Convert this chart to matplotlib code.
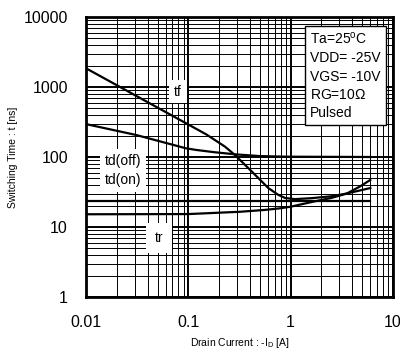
import matplotlib
matplotlib.use("Agg")
import matplotlib.pyplot as plt
from matplotlib.ticker import LogLocator, NullFormatter, FixedLocator, FixedFormatter

plt.rcParams['font.family'] = ['Liberation Sans', 'DejaVu Sans']
plt.rcParams['mathtext.fontset'] = 'custom'
plt.rcParams['mathtext.rm'] = 'Liberation Sans'

# drain current [A] and switching times [ns]
tf_id = [0.01, 0.083, 0.15, 0.229, 0.285, 0.417, 0.605, 0.75, 0.88, 1.1, 1.6, 2.5, 3.5, 6.0]
tf_t = [1850, 338, 210, 140, 107, 62, 36, 29, 26, 25, 25.8, 27.5, 30, 36]

tdoff_id = [0.01, 0.031, 0.095, 0.12, 0.18, 0.29, 0.5, 0.9, 6.0]
tdoff_t = [295, 206, 133, 126, 117, 109, 103, 101, 100]

tdon_id = [0.01, 6.0]
tdon_t = [23.7, 23.7]

tr_id = [0.01, 0.1, 0.32, 0.55, 0.79, 1.0, 1.66, 2.5, 3.53, 4.77, 6.0]
tr_t = [15.2, 15.3, 16.5, 17.5, 18.5, 19.5, 23, 26, 30, 38, 47]

xticks = [0.01, 0.1, 1, 10]
xtick_labels = ["0.01", "0.1", "1", "10"]
yticks = [1, 10, 100, 1000, 10000]
ytick_labels = ["1", "10", "100", "1000", "10000"]

conditions = "Ta=25$^\\mathregular{o}$C\nVDD= -25V\nVGS= -10V\nRG=10$\\Omega$\nPulsed"

fig = plt.figure(figsize=(4, 3.52), dpi=100)
ax = fig.add_axes([0.215, 0.15625, 0.7675, 0.7955])

ax.set_xscale("log")
ax.set_yscale("log")
ax.set_xlim(0.01, 10)
ax.set_ylim(1, 10000)

ax.xaxis.set_major_locator(FixedLocator(xticks))
ax.xaxis.set_major_formatter(FixedFormatter(xtick_labels))
ax.yaxis.set_major_locator(FixedLocator(yticks))
ax.yaxis.set_major_formatter(FixedFormatter(ytick_labels))
ax.xaxis.set_minor_locator(LogLocator(base=10, subs=range(2, 10)))
ax.yaxis.set_minor_locator(LogLocator(base=10, subs=range(2, 10)))
ax.xaxis.set_minor_formatter(NullFormatter())
ax.yaxis.set_minor_formatter(NullFormatter())

ax.grid(which="major", color="black", lw=1.4)
ax.grid(which="minor", color="black", lw=0.7)
ax.set_axisbelow(True)
ax.tick_params(which="both", length=0, labelsize=11.5, pad=13)

for s in ax.spines.values():
    s.set_linewidth(2)

for xs, ys in [(tf_id, tf_t), (tdoff_id, tdoff_t), (tdon_id, tdon_t), (tr_id, tr_t)]:
    ax.plot(xs, ys, color="black", lw=1.6, zorder=4)

box = dict(facecolor="white", edgecolor="none", pad=3.5)
ax.text(0.0795, 860, "tf", fontsize=10, ha="center", va="center", bbox=box, zorder=3)
ax.text(0.023, 88, "td(off)", fontsize=10, ha="center", va="center", bbox=box, zorder=3)
ax.text(0.023, 47, "td(on)", fontsize=10, ha="center", va="center", bbox=box, zorder=3)
ax.text(0.0517, 7.0, "tr", fontsize=10, ha="center", va="center",
        bbox=dict(facecolor="white", edgecolor="none", pad=6), zorder=3)

ax.text(0.845, 0.791, conditions, transform=ax.transAxes, fontsize=10,
        ha="center", va="center", multialignment="left", linespacing=1.4,
        bbox=dict(facecolor="white", edgecolor="black", lw=1.0, pad=3.5), zorder=5)

ax.set_xlabel("Drain Current : -I$_\\mathregular{D}$ [A]", fontsize=7.5, labelpad=4)
ax.set_ylabel("Switching Time : t [ns]", fontsize=7.5, labelpad=4)

fig.savefig("out.png", dpi=100)
